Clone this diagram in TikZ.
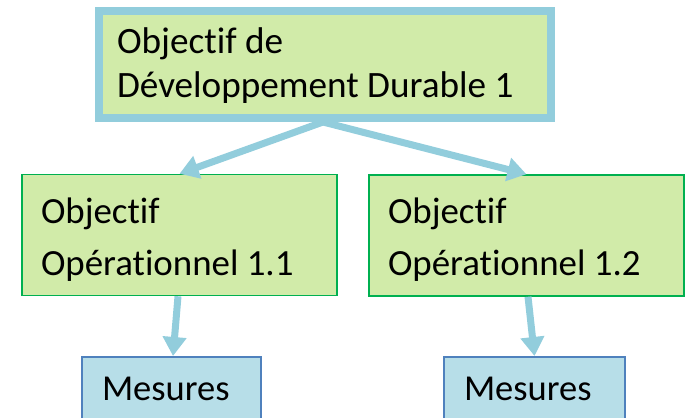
\documentclass[tikz,border=0pt]{standalone}
\usepackage{fontspec}
\setmainfont{Carlito}[Ligatures=NoCommon]
\usepackage{tikz}
\usetikzlibrary{arrows.meta, calc}
\definecolor{aqua}{HTML}{92CDDC}
\definecolor{leaf}{HTML}{D1EBA9}
\definecolor{leafline}{HTML}{00B050}
\definecolor{pale}{HTML}{B7DEE8}
\definecolor{paleline}{HTML}{4F81BD}
\tikzset{
	goal/.append style={
		draw=aqua,
		fill=leaf,
		line width=8pt,
		align=flush left,
		inner xsep=18pt,
		text width=416pt,
		text height=28pt,
		text depth=51pt,
		minimum height=107pt,
		font={\fontsize{37.2}{44}\selectfont}
	},
	opgoal/.append style={
		draw=leafline,
		fill=leaf,
		line width=1.5pt,
		align=flush left,
		inner xsep=19pt,
		text width=277pt,
		text height=28pt,
		text depth=52pt,
		minimum height=121pt,
		font={\fontsize{36.9}{52}\selectfont}
	},
	measure/.append style={
		draw=paleline,
		fill=pale,
		line width=1.5pt,
		align=flush left,
		inner xsep=20pt,
		text height=21pt,
		text depth=0pt,
		minimum height=67pt,
		anchor=north,
		font={\fontsize{36.5}{44}\selectfont}
	},
	flow/.append style={
		draw=aqua,
		line width=7pt,
		-{Triangle[width=23pt,length=19pt]}
	}
}

\begin{document}
\begin{tikzpicture}[x=1pt, y=-1pt]
\useasboundingbox (0,0) rectangle (686,418);
\clip (0,0) rectangle (686,418);

\node(odd)[goal] at (325,64.5) {Objectif de\\Développement Durable 1};

\node(op1)[opgoal] at (179.5,235) {Objectif\\Opérationnel 1.1};
\node(op2)[opgoal] at (526.5,235.5) {Objectif\\Opérationnel 1.2};

\node(mes1)[measure, text width=139pt] at (171.5,356) {Mesures};
\node(mes2)[measure, text width=141pt] at (534.5,356) {Mesures};


\draw[flow] ([xshift=-2pt]odd.south) to (op1.north);
\draw[flow] ([xshift=-2pt]odd.south) to (op2.north);
\draw[flow] ([xshift=-1.5pt]op1.south) to ([xshift=1.5pt]mes1.north);
\draw[flow] ([xshift=1.5pt]op2.south) to (mes2.north);

\end{tikzpicture}
\end{document}
